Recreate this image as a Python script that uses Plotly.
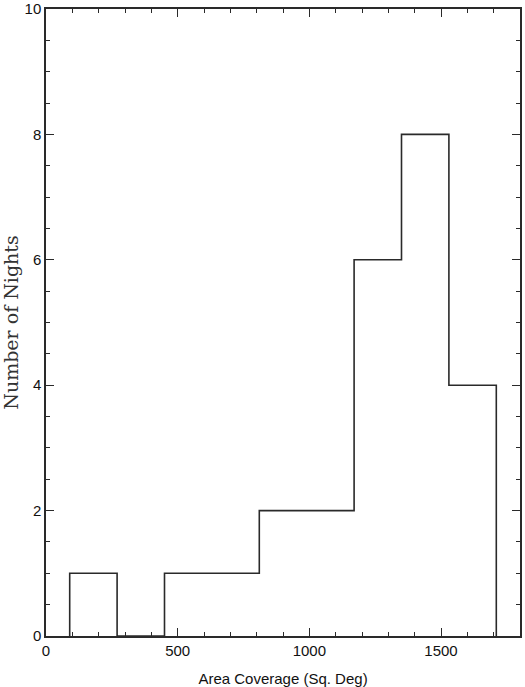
import plotly.graph_objects as go

# histogram: bin edges (Sq. Deg) and nights per bin
bin_edges = [90, 270, 450, 630, 810, 990, 1170, 1350, 1530, 1710]
nights = [1, 0, 1, 1, 2, 2, 6, 8, 4]

# outline of the histogram as a step line (up from zero, down to zero at the end)
step_x = [bin_edges[0]] + bin_edges
step_y = [0] + nights + [0]

ink = "#2a2a2a"

fig = go.Figure()
fig.add_trace(
    go.Scatter(
        x=step_x,
        y=step_y,
        mode="lines",
        line=dict(color=ink, width=1.6, shape="hv"),
        showlegend=False,
        hoverinfo="skip",
    )
)

axis_common = dict(
    showgrid=False,
    zeroline=False,
    showline=True,
    linecolor=ink,
    linewidth=1.5,
    mirror="ticks",
    ticks="inside",
    ticklen=8,
    tickwidth=1.3,
    tickcolor=ink,
    automargin=False,
    tickfont=dict(family="Liberation Sans, Arial, sans-serif", size=15, color="#111"),
)

fig.update_layout(
    width=525,
    height=687,
    paper_bgcolor="white",
    plot_bgcolor="white",
    margin=dict(l=46, r=5, t=9, b=51),
    xaxis=dict(
        axis_common,
        range=[0, 1800],
        tickvals=[0, 500, 1000, 1500],
        minor=dict(dtick=100, ticks="inside", ticklen=4, tickcolor=ink, tickwidth=1.1),
        title=dict(
            text="Area Coverage (Sq. Deg)",
            font=dict(family="Liberation Sans, Arial, sans-serif", size=15, color="#111"),
            standoff=19,
        ),
    ),
    yaxis=dict(
        axis_common,
        range=[0, 10],
        tickvals=[0, 2, 4, 6, 8, 10],
        minor=dict(dtick=0.5, ticks="inside", ticklen=4, tickcolor=ink, tickwidth=1.1),
        title=dict(
            text="Number of Nights",
            font=dict(family="DejaVu Serif, serif", size=19, color="#333"),
            standoff=16,
        ),
    ),
)

# drop the browser's default body margin so the figure sits at the page corner
fig.write_html(
    "out.html",
    config={"displayModeBar": False},
    post_script="document.body.style.margin='0';",
)
